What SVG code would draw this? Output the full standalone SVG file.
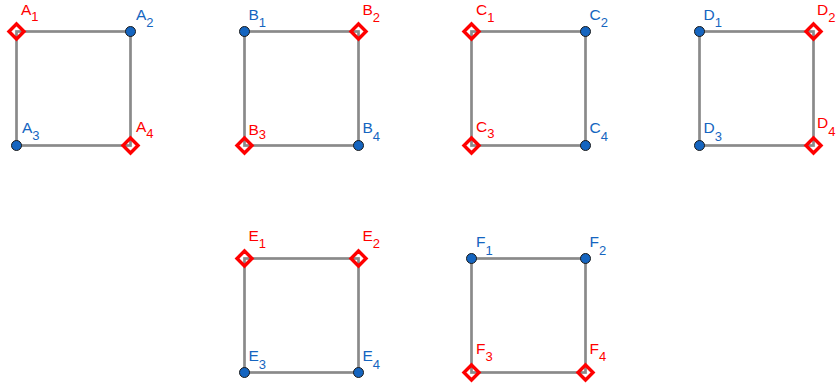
<svg xmlns="http://www.w3.org/2000/svg" width="839" height="387" viewBox="0 0 839 387">
<style>
.edge{stroke:#8a8a8a;stroke-width:2.7;fill:none}
.dot{fill:#1565c0;stroke:#1a1a1a;stroke-width:1}
.dia{fill:none;stroke:#ff0000;stroke-width:3.4}
.lb{font-family:"Liberation Sans",Arial,sans-serif;font-size:15.5px}
.b{fill:#1565c0}
.r{fill:#ff0000}
.s{font-size:13px}
</style>
<defs>
<polygon id="dm" class="dia" points="0,-7.5 7.5,0 0,7.5 -7.5,0"/>
<circle id="dt" class="dot" r="5"/>
</defs>
<rect width="839" height="387" fill="#fff"/>
<g id="connectors">
<rect class="edge" x="16.5" y="31.5" width="114" height="114"/>
<rect class="edge" x="244.5" y="31.5" width="114" height="114"/>
<rect class="edge" x="471.5" y="31.5" width="114" height="114"/>
<rect class="edge" x="699.5" y="31.5" width="114" height="114"/>
<rect class="edge" x="244.5" y="258.5" width="114" height="114"/>
<rect class="edge" x="471.5" y="258.5" width="114" height="114"/>
</g>
<g id="A1"><use href="#dm" x="16.5" y="31.5"/><text class="lb r" x="21" y="14.5">A<tspan class="s" dy="6">1</tspan></text></g>
<g id="A2"><use href="#dt" x="130.5" y="31.5"/><text class="lb b" x="136" y="19.5">A<tspan class="s" dy="7">2</tspan></text></g>
<g id="A3"><use href="#dt" x="16.5" y="145.5"/><text class="lb b" x="22" y="132.5">A<tspan class="s" dy="7">3</tspan></text></g>
<g id="A4"><use href="#dm" x="130.5" y="145.5"/><text class="lb r" x="136" y="131.5">A<tspan class="s" dy="6">4</tspan></text></g>
<g id="B1"><use href="#dt" x="244.5" y="31.5"/><text class="lb b" x="248.5" y="19.5">B<tspan class="s" dy="7">1</tspan></text></g>
<g id="B2"><use href="#dm" x="358.5" y="31.5"/><text class="lb r" x="362.5" y="14.5">B<tspan class="s" dy="7">2</tspan></text></g>
<g id="B3"><use href="#dm" x="244.5" y="145.5"/><text class="lb r" x="248.5" y="134.5">B<tspan class="s" dy="4">3</tspan></text></g>
<g id="B4"><use href="#dt" x="358.5" y="145.5"/><text class="lb b" x="362.5" y="132.5">B<tspan class="s" dy="8">4</tspan></text></g>
<g id="C1"><use href="#dm" x="471.5" y="31.5"/><text class="lb r" x="476" y="14.5">C<tspan class="s" dy="7">1</tspan></text></g>
<g id="C2"><use href="#dt" x="585.5" y="31.5"/><text class="lb b" x="589.5" y="19.5">C<tspan class="s" dy="7">2</tspan></text></g>
<g id="C3"><use href="#dm" x="471.5" y="145.5"/><text class="lb r" x="476" y="131.5">C<tspan class="s" dy="6">3</tspan></text></g>
<g id="C4"><use href="#dt" x="585.5" y="145.5"/><text class="lb b" x="589.5" y="132.5">C<tspan class="s" dy="8">4</tspan></text></g>
<g id="D1"><use href="#dt" x="699.5" y="31.5"/><text class="lb b" x="703.5" y="19.5">D<tspan class="s" dy="7">1</tspan></text></g>
<g id="D2"><use href="#dm" x="813.5" y="31.5"/><text class="lb r" x="817" y="14.5">D<tspan class="s" dy="7">2</tspan></text></g>
<g id="D3"><use href="#dt" x="699.5" y="145.5"/><text class="lb b" x="703.5" y="132.5">D<tspan class="s" dy="8">3</tspan></text></g>
<g id="D4"><use href="#dm" x="813.5" y="145.5"/><text class="lb r" x="817" y="128.3">D<tspan class="s" dy="8">4</tspan></text></g>
<g id="E1"><use href="#dm" x="244.5" y="258.5"/><text class="lb r" x="248.5" y="241">E<tspan class="s" dy="7">1</tspan></text></g>
<g id="E2"><use href="#dm" x="358.5" y="258.5"/><text class="lb r" x="362.5" y="241">E<tspan class="s" dy="7">2</tspan></text></g>
<g id="E3"><use href="#dt" x="244.5" y="372.5"/><text class="lb b" x="248.5" y="361">E<tspan class="s" dy="8">3</tspan></text></g>
<g id="E4"><use href="#dt" x="358.5" y="372.5"/><text class="lb b" x="362.5" y="361">E<tspan class="s" dy="8">4</tspan></text></g>
<g id="F1"><use href="#dt" x="471.5" y="258.5"/><text class="lb b" x="476" y="247">F<tspan class="s" dy="8">1</tspan></text></g>
<g id="F2"><use href="#dt" x="585.5" y="258.5"/><text class="lb b" x="589.5" y="247">F<tspan class="s" dy="8">2</tspan></text></g>
<g id="F3"><use href="#dm" x="471.5" y="372.5"/><text class="lb r" x="476" y="354">F<tspan class="s" dy="7">3</tspan></text></g>
<g id="F4"><use href="#dm" x="585.5" y="372.5"/><text class="lb r" x="589.5" y="354">F<tspan class="s" dy="7">4</tspan></text></g>
</svg>
